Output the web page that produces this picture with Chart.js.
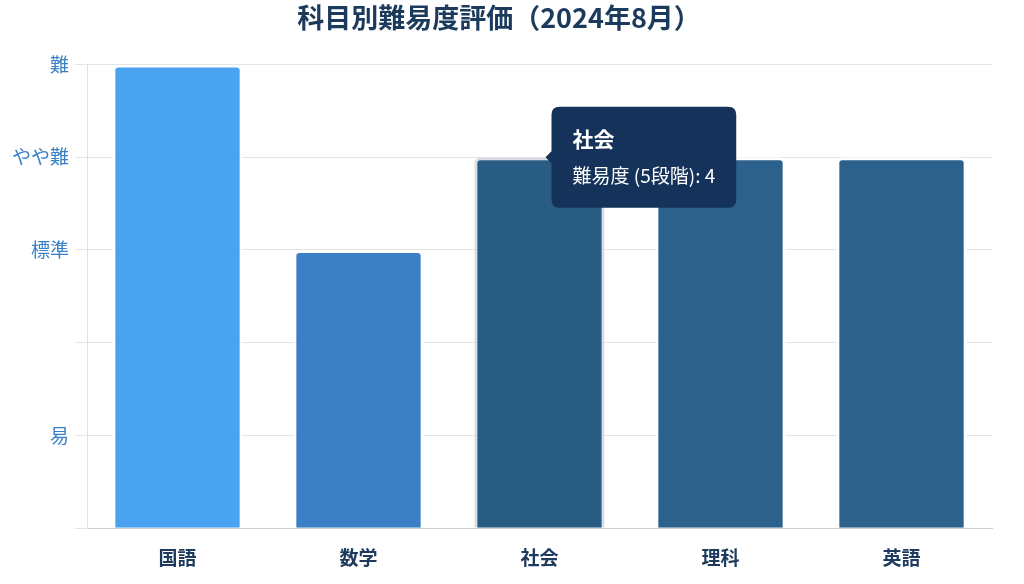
<!DOCTYPE html>
<html lang="ja">
<head>
<meta charset="utf-8">
<script src="https://cdn.jsdelivr.net/npm/chart.js@4.4.1/dist/chart.umd.min.js"></script>
<style>
  html, body { margin: 0; padding: 0; background: #ffffff; }
  #wrap { width: 1024px; height: 584px; }
</style>
</head>
<body>
<div id="wrap"><canvas id="c" width="1024" height="584"></canvas></div>
<script>
const categories = ['国語', '数学', '社会', '理科', '英語'];
const difficulty = [5, 3, 4, 4, 4];
const yTickLabels = ['', '易', '', '標準', 'やや難', '難'];
const barColors = ['#4aa3f1', '#3b80c5', '#2c618c', '#2c618c', '#2c618c'];
const hoverColors = ['#4aa3f1', '#3b80c5', '#285c83', '#285c83', '#285c83'];
const seriesLabel = '難易度 (5段階)';
const chartTitle = '科目別難易度評価（2024年8月）';
const activeIndex = 2;

const FONT = "'Noto Sans CJK JP', 'Noto Sans', sans-serif";

const chart = new Chart(document.getElementById('c'), {
  type: 'bar',
  data: {
    labels: categories,
    datasets: [{
      label: seriesLabel,
      data: difficulty,
      backgroundColor: barColors,
      hoverBackgroundColor: hoverColors,
      borderColor: '#ffffff',
      hoverBorderColor: '#d9dde2',
      borderWidth: 3,
      hoverBorderWidth: 3,
      borderRadius: 6,
      borderSkipped: 'start'
    }]
  },
  options: {
    responsive: false,
    animation: false,
    devicePixelRatio: 1,
    layout: { padding: { left: 6, right: 32, top: 0, bottom: 5 } },
    plugins: {
      legend: { display: false },
      title: {
        display: true,
        text: chartTitle,
        color: '#1b3a5c',
        font: { family: FONT, size: 27, weight: 'bold' },
        padding: { top: 2, bottom: 30 }
      },
      tooltip: {
        enabled: true,
        backgroundColor: '#15335a',
        titleColor: '#ffffff',
        bodyColor: '#ffffff',
        titleFont: { family: FONT, size: 21, weight: 'bold' },
        bodyFont: { family: FONT, size: 19 },
        padding: { x: 21, y: 20 },
        titleMarginBottom: 13,
        cornerRadius: 8,
        caretSize: 6,
        caretPadding: 6,
        displayColors: false
      }
    },
    scales: {
      x: {
        grid: { display: false },
        border: { display: true, color: '#cfcfcf', width: 1 },
        ticks: {
          color: '#1e3a5c',
          font: { family: FONT, size: 19, weight: 'bold' },
          padding: 10
        }
      },
      y: {
        min: 0,
        max: 5,
        border: { display: true, color: '#e2e2e2', width: 1 },
        grid: { color: '#e4e4e4', tickLength: 12, lineWidth: 1 },
        ticks: {
          stepSize: 1,
          color: '#3a80c4',
          font: { family: FONT, size: 19 },
          padding: 6,
          callback: (v) => yTickLabels[v] !== undefined ? yTickLabels[v] : ''
        }
      }
    }
  }
});

const meta = chart.getDatasetMeta(0);
const el = meta.data[activeIndex];
chart.setActiveElements([{ datasetIndex: 0, index: activeIndex }]);
chart.tooltip.setActiveElements([{ datasetIndex: 0, index: activeIndex }], { x: el.x, y: el.y });
chart.update();
</script>
</body>
</html>
